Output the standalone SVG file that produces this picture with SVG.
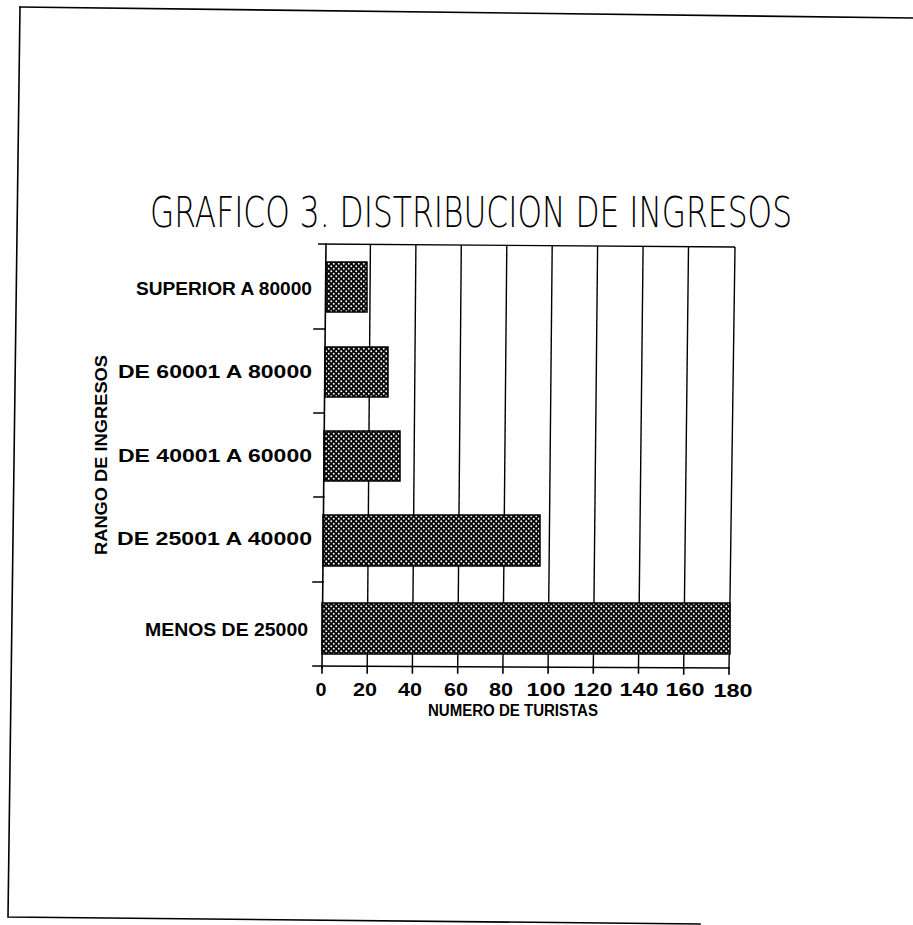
<svg xmlns="http://www.w3.org/2000/svg" width="913" height="925" viewBox="0 0 913 925">
  <style>
    .ln { stroke: #000; stroke-width: 1.6; fill: none; stroke-linecap: square; }
    .grid { stroke: #000; stroke-width: 1.4; fill: none; }
    .bar { fill: url(#dots); stroke: #000; stroke-width: 1.5; }
    .ylab { font-family: "Liberation Sans", Arial, sans-serif; font-weight: bold; font-size: 19px; fill: #000; text-anchor: end; }
    .xlab { font-family: "Liberation Sans", Arial, sans-serif; font-weight: bold; font-size: 19px; fill: #000; text-anchor: middle; }
    .ttl { font-family: "DejaVu Sans", "Liberation Sans", sans-serif; font-weight: 200; font-size: 43px; fill: #000; }
    .axt { font-family: "Liberation Sans", Arial, sans-serif; font-weight: bold; font-size: 16px; fill: #000; }
  </style>
  <defs>
    <pattern id="dots" patternUnits="userSpaceOnUse" width="5" height="5">
      <rect width="5" height="5" fill="#0a0a0a"/>
      <circle cx="1.25" cy="1.25" r="0.95" fill="#fff"/>
      <circle cx="3.75" cy="3.75" r="0.95" fill="#fff"/>
    </pattern>
  </defs>
  <rect width="913" height="925" fill="#fff"/>

  <g id="frame">
    <path class="ln" d="M20,7 L913,18"/>
    <path class="ln" d="M20,7 L8,917 L700,924"/>
  </g>

  <g id="title">
    <text class="ttl" x="150" y="227" textLength="642" lengthAdjust="spacingAndGlyphs">GRAFICO 3. DISTRIBUCION DE INGRESOS</text>
  </g>

  <g id="grid">
    <path class="grid" d="M318,244 L735,247"/>
    <path class="grid" d="M370.4,245 L367.2,667"/>
    <path class="grid" d="M415.9,245 L412.4,667"/>
    <path class="grid" d="M461.3,245 L457.7,667"/>
    <path class="grid" d="M506.8,246 L502.9,667"/>
    <path class="grid" d="M552.2,246 L548.1,667"/>
    <path class="grid" d="M597.6,246 L593.3,667"/>
    <path class="grid" d="M643.1,246 L638.5,667"/>
    <path class="grid" d="M688.5,247 L683.7,667"/>
    <path class="grid" d="M735,247 L729,668"/>
  </g>

  <g id="bars">
    <g id="bar-superior"><rect class="bar" x="326" y="262" width="41" height="50"/></g>
    <g id="bar-60001"><rect class="bar" x="325" y="347" width="63" height="50"/></g>
    <g id="bar-40001"><rect class="bar" x="324" y="431" width="76" height="50"/></g>
    <g id="bar-25001"><rect class="bar" x="323" y="515" width="217" height="51"/></g>
    <g id="bar-menos"><rect class="bar" x="322" y="603" width="408" height="51"/></g>
  </g>

  <g id="axes">
    <path class="ln" d="M326,244 L322,668"/>
    <path class="ln" d="M313,666 L729,668"/>
    <path class="ln" d="M314,329 L325,329 M314,413 L324,413 M314,497 L324,497 M313,582 L323,582"/>
    <path class="ln" d="M322,667 L322,673 M367.2,667 L367.2,673 M412.4,667 L412.4,673 M457.7,667 L457.7,673 M502.9,667 L502.9,673 M548.1,667 L548.1,673 M593.3,667 L593.3,673 M638.5,667 L638.5,673 M683.7,668 L683.7,674 M729,668 L729,674"/>
  </g>

  <g id="y-labels">
    <text class="ylab" x="312" y="295" textLength="176" lengthAdjust="spacingAndGlyphs">SUPERIOR A 80000</text>
    <text class="ylab" x="312" y="378" textLength="194" lengthAdjust="spacingAndGlyphs">DE 60001 A 80000</text>
    <text class="ylab" x="312" y="462" textLength="194" lengthAdjust="spacingAndGlyphs">DE 40001 A 60000</text>
    <text class="ylab" x="312" y="545" textLength="195" lengthAdjust="spacingAndGlyphs">DE 25001 A 40000</text>
    <text class="ylab" x="308" y="636" textLength="163" lengthAdjust="spacingAndGlyphs">MENOS DE 25000</text>
  </g>

  <g id="x-labels">
    <text class="xlab" x="321" y="696" textLength="11" lengthAdjust="spacingAndGlyphs">0</text>
    <text class="xlab" x="365" y="696" textLength="24" lengthAdjust="spacingAndGlyphs">20</text>
    <text class="xlab" x="410" y="696" textLength="24" lengthAdjust="spacingAndGlyphs">40</text>
    <text class="xlab" x="456" y="696" textLength="24" lengthAdjust="spacingAndGlyphs">60</text>
    <text class="xlab" x="501" y="696" textLength="24" lengthAdjust="spacingAndGlyphs">80</text>
    <text class="xlab" x="546" y="696" textLength="39" lengthAdjust="spacingAndGlyphs">100</text>
    <text class="xlab" x="593" y="696" textLength="39" lengthAdjust="spacingAndGlyphs">120</text>
    <text class="xlab" x="639" y="696" textLength="39" lengthAdjust="spacingAndGlyphs">140</text>
    <text class="xlab" x="685" y="696" textLength="39" lengthAdjust="spacingAndGlyphs">160</text>
    <text class="xlab" x="733" y="697" textLength="39" lengthAdjust="spacingAndGlyphs">180</text>
  </g>

  <g id="axis-titles">
    <text class="axt" x="428" y="716" textLength="170" lengthAdjust="spacingAndGlyphs">NUMERO DE TURISTAS</text>
    <text class="axt" transform="translate(107,455) rotate(-90)" text-anchor="middle" x="0" y="0" textLength="200" lengthAdjust="spacingAndGlyphs">RANGO DE INGRESOS</text>
  </g>
</svg>
